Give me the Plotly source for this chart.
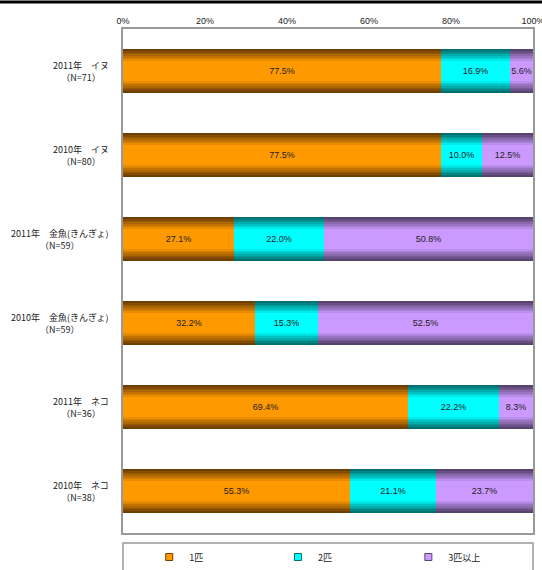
import plotly.graph_objects as go

categories = ["2011年　イヌ", "2010年　イヌ", "2011年　金魚(きんぎょ)", "2010年　金魚(きんぎょ)", "2011年　ネコ", "2010年　ネコ"]
n_labels = ["（N=71）", "（N=80）", "（N=59）", "（N=59）", "（N=36）", "（N=38）"]
series_names = ["1匹", "2匹", "3匹以上"]
one = [77.5, 77.5, 27.1, 32.2, 69.4, 55.3]
two = [16.9, 10.0, 22.0, 15.3, 22.2, 21.1]
three = [5.6, 12.5, 50.8, 52.5, 8.3, 23.7]
tick_vals = [0, 20, 40, 60, 80, 100]
tick_text = ["0%", "20%", "40%", "60%", "80%", "100%"]

bright = ["#FF9900", "#00FFFF", "#CC99FF"]
dark = ["#6E3F00", "#007070", "#56436E"]

def mix(c1, c2, t):
    a = [int(c1[i:i+2], 16) for i in (1, 3, 5)]
    b = [int(c2[i:i+2], 16) for i in (1, 3, 5)]
    return "#%02x%02x%02x" % tuple(round(a[k] + (b[k] - a[k]) * t) for k in range(3))

FONT = "Liberation Sans, Arial, Noto Sans CJK JP"
fig = go.Figure()
series = [one, two, three]
bases = [[0] * 6, one, [a + b for a, b in zip(one, two)]]
widths = [0.52, 0.48, 0.44, 0.40, 0.36, 0.32, 0.28, 0.24]
for s in range(3):
    for k, w in enumerate(widths):
        t = k / (len(widths) - 1)
        last = k == len(widths) - 1
        fig.add_trace(go.Bar(
            y=categories, x=series[s], base=bases[s], orientation="h",
            width=w, marker=dict(color=mix(dark[s], bright[s], t), line=dict(width=0)),
            text=[f"{v:.1f}%" for v in series[s]] if last else None,
            textposition="inside" if last else "none",
            insidetextanchor="middle", constraintext="none",
            textfont=dict(size=9, color="#222222", family=FONT),
            showlegend=False, hoverinfo="skip",
        ))

legend_x = [0.064, 0.378, 0.696]
legend_keys = ["legend", "legend2", "legend3"]
for s in range(3):
    fig.add_trace(go.Scatter(
        x=[None], y=[None], mode="markers", name=series_names[s], legend=legend_keys[s],
        marker=dict(symbol="square", size=7, color=bright[s], line=dict(color=dark[s], width=1)),
    ))

for c, n in zip(categories, n_labels):
    fig.add_annotation(x=-0.03, xref="paper", y=c, yref="y", text=c + "<br>" + n,
                       showarrow=False, xanchor="right", yanchor="middle", align="center",
                       font=dict(size=9, color="#222222", family="Noto Sans CJK JP"))

leg_common = dict(orientation="h", xanchor="left", y=-0.0476, yanchor="middle",
                  font=dict(size=9, family="Noto Sans CJK JP", color="#222222"),
                  bgcolor="rgba(0,0,0,0)")

fig.update_layout(
    width=542, height=570,
    margin=dict(l=123, r=9, t=29, b=37, autoexpand=False),
    barmode="overlay", bargap=0,
    plot_bgcolor="white", paper_bgcolor="white",
    font=dict(family=FONT, size=9, color="#222222"),
    xaxis=dict(range=[0, 100], side="top", tickvals=tick_vals, ticktext=tick_text,
               showgrid=False, zeroline=False, showline=True, mirror=True,
               linecolor="#999999", linewidth=1.5, ticks="", tickfont=dict(size=9),
               ticklabeloverflow="allow", automargin=False),
    yaxis=dict(categoryorder="array", categoryarray=categories, autorange="reversed",
               showticklabels=False, showgrid=False, zeroline=False, showline=True,
               mirror=True, linecolor="#999999", linewidth=1.5, ticks="", automargin=False),
    legend=dict(x=legend_x[0], **leg_common),
    legend2=dict(x=legend_x[1], **leg_common),
    legend3=dict(x=legend_x[2], **leg_common),
    shapes=[
        dict(type="line", xref="paper", yref="paper", x0=-0.4, x1=1.1, y0=1.0536, y1=1.0536,
             line=dict(color="black", width=3)),
        dict(type="rect", xref="paper", yref="paper", x0=0, x1=1, y0=-0.02, y1=-0.2,
             line=dict(color="#999999", width=1.5)),
    ],
)
fig.write_html("out.html")
